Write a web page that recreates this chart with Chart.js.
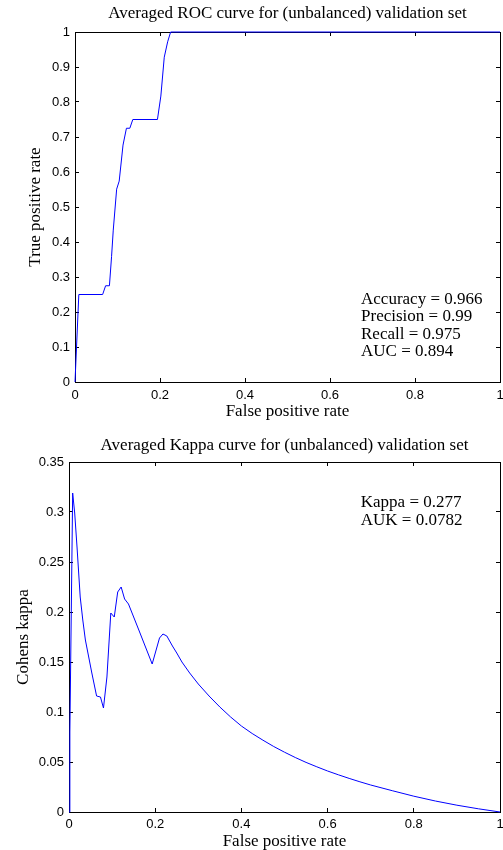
<!DOCTYPE html>
<html>
<head>
<meta charset="utf-8">
<script src="https://cdn.jsdelivr.net/npm/chart.js@4.4.1/dist/chart.umd.min.js"></script>
<style>
    html, body { margin: 0; padding: 0; background: #fff; }
    .panel { position: absolute; left: 0; width: 503px; height: 425px; }
</style>
</head>
<body>
<div class="panel" style="top: 0;"><canvas id="roc" width="503" height="425"></canvas></div>
<div class="panel" style="top: 425px;"><canvas id="kappa" width="503" height="425"></canvas></div>
<script>
// averaged ROC curve
const rocFpr = [0, 0.009, 0.065, 0.072, 0.081, 0.086, 0.090, 0.098, 0.104, 0.113, 0.121, 0.129,
    0.136, 0.194, 0.202, 0.210, 0.218, 0.225, 1];
const rocTpr = [0, 0.25, 0.25, 0.275, 0.275, 0.358, 0.434, 0.551, 0.574, 0.677, 0.725, 0.725,
    0.75, 0.75, 0.817, 0.928, 0.972, 1, 1];
const rocStatNames = ['Accuracy', 'Precision', 'Recall', 'AUC'];
const rocStatValues = [0.966, 0.99, 0.975, 0.894];

// averaged Cohen's kappa curve
const kappaFpr = [0, 0.002, 0.0085, 0.0132, 0.0186, 0.026, 0.032, 0.038, 0.053, 0.064, 0.073,
    0.080, 0.088, 0.097, 0.105, 0.113, 0.121, 0.129, 0.138, 0.162, 0.193, 0.210, 0.218, 0.227,
    0.24, 0.25, 0.262, 0.28, 0.30, 0.325, 0.35, 0.375, 0.40, 0.425, 0.45, 0.475, 0.50, 0.525,
    0.55, 0.575, 0.60, 0.625, 0.65, 0.675, 0.70, 0.75, 0.80, 0.85, 0.90, 0.95, 1];
const kappaValue = [0, 0.08, 0.319, 0.299, 0.265, 0.215, 0.192, 0.172, 0.139, 0.116, 0.115,
    0.104, 0.135, 0.199, 0.195, 0.220, 0.225, 0.213, 0.208, 0.182, 0.148, 0.174, 0.178, 0.176,
    0.166, 0.159, 0.150, 0.139, 0.128, 0.116, 0.105, 0.095, 0.086, 0.0785, 0.0718, 0.0655, 0.0598,
    0.0545, 0.0496, 0.0452, 0.041, 0.0372, 0.0336, 0.0302, 0.027, 0.0213, 0.0158, 0.011, 0.0068,
    0.0032, 0];
const kappaStatNames = ['Kappa', 'AUK'];
const kappaStatValues = [0.277, 0.0782];

const SERIF = "'Liberation Serif', 'Times New Roman', serif";
const SANS = "'Liberation Sans', Arial, sans-serif";
const TICK_LEN = -4; // negative: tick marks point into the plot box

function fmtTick(v) {
    return String(Math.round(v * 100) / 100);
}

// text block anchored at a data position, one line per statistic
const statsText = {
    id: 'statsText',
    afterDatasetsDraw(chart, _args, opts) {
        const {ctx, scales: {x, y}} = chart,
            left = x.getPixelForValue(opts.x),
            top = y.getPixelForValue(opts.y);

        ctx.save();
        ctx.font = `17px ${SERIF}`;
        ctx.fillStyle = '#000';
        ctx.textAlign = 'left';
        ctx.textBaseline = 'alphabetic';
        opts.names.forEach((name, i) => {
            ctx.fillText(`${name} = ${opts.values[i]}`, left, top + i * opts.lineGap);
        });
        ctx.restore();
    }
};

function makePlot(canvasId, cfg) {
    const points = cfg.xs.map((x, i) => ({x, y: cfg.ys[i]})),
        tickFont = {family: SANS, size: 13, lineHeight: 1.2},
        titleFont = {family: SERIF, size: 17, weight: 'normal', lineHeight: 1},
        grid = {drawOnChartArea: false, tickLength: TICK_LEN, tickColor: '#000', tickWidth: 1},
        border = {color: '#000', width: 1};

    return new Chart(document.getElementById(canvasId), {
        type: 'scatter',
        data: {
            datasets: [{
                data: points,
                showLine: true,
                borderColor: '#0000ff',
                borderWidth: 1,
                pointRadius: 0,
                tension: 0,
                clip: false
            }]
        },
        options: {
            responsive: false,
            animation: false,
            events: [],
            layout: {padding: {left: 0, right: 3, top: 0, bottom: 0}},
            plugins: {
                legend: {display: false},
                tooltip: {enabled: false},
                title: {
                    display: true,
                    fullSize: false,
                    text: cfg.title,
                    color: '#000',
                    font: titleFont,
                    padding: cfg.titlePad
                },
                statsText: cfg.stats
            },
            scales: {
                x: {
                    type: 'linear',
                    position: 'bottom',
                    min: 0,
                    max: 1,
                    ticks: {stepSize: 0.2, padding: cfg.xTickPad, color: '#000', font: tickFont,
                        callback: fmtTick, maxRotation: 0, autoSkip: false},
                    grid,
                    border,
                    title: {display: true, text: 'False positive rate', color: '#000', font: titleFont,
                        padding: {top: 0, bottom: cfg.xTitlePad}},
                    afterFit: s => {
                        s.height = cfg.xAxisHeight;
                        s.paddingLeft = 0;
                        s.paddingRight = 0;
                    }
                },
                x2: {
                    type: 'linear',
                    axis: 'x',
                    position: 'top',
                    min: 0,
                    max: 1,
                    ticks: {stepSize: 0.2, display: false},
                    grid,
                    border,
                    afterFit: s => {
                        s.height = 0;
                        s.paddingLeft = 0;
                        s.paddingRight = 0;
                    }
                },
                y: {
                    type: 'linear',
                    position: 'left',
                    min: 0,
                    max: cfg.yMax,
                    ticks: {stepSize: cfg.yStep, padding: 9, color: '#000', font: tickFont,
                        callback: fmtTick, autoSkip: false},
                    grid,
                    border,
                    title: {display: true, text: cfg.yTitle, color: '#000', font: titleFont,
                        padding: {top: cfg.yTitlePad, bottom: 0}},
                    afterFit: s => {
                        s.width = cfg.yAxisWidth;
                    }
                },
                y2: {
                    type: 'linear',
                    axis: 'y',
                    position: 'right',
                    min: 0,
                    max: cfg.yMax,
                    ticks: {stepSize: cfg.yStep, display: false},
                    grid,
                    border,
                    afterFit: s => {
                        s.width = 0;
                    }
                }
            }
        },
        plugins: [statsText]
    });
}

makePlot('roc', {
    xs: rocFpr,
    ys: rocTpr,
    title: 'Averaged ROC curve for (unbalanced) validation set',
    yTitle: 'True positive rate',
    yMax: 1,
    yStep: 0.1,
    yAxisWidth: 75,
    yTitlePad: 26.8,
    xAxisHeight: 43,
    xTickPad: 9.7,
    xTitlePad: 4.5,
    titlePad: {top: 5.3, bottom: 9.7},
    stats: {names: rocStatNames, values: rocStatValues, x: 0.673, y: 0.223, lineGap: 17.4}
});

makePlot('kappa', {
    xs: kappaFpr,
    ys: kappaValue,
    title: 'Averaged Kappa curve for (unbalanced) validation set',
    yTitle: 'Cohens kappa',
    yMax: 0.35,
    yStep: 0.05,
    yAxisWidth: 69,
    yTitlePad: 15.3,
    xAxisHeight: 38,
    xTickPad: 8.7,
    xTitlePad: -0.5,
    titlePad: {top: 11.8, bottom: 8.2},
    stats: {names: kappaStatNames, values: kappaStatValues, x: 0.677, y: 0.3047, lineGap: 17.7}
});
</script>
</body>
</html>
